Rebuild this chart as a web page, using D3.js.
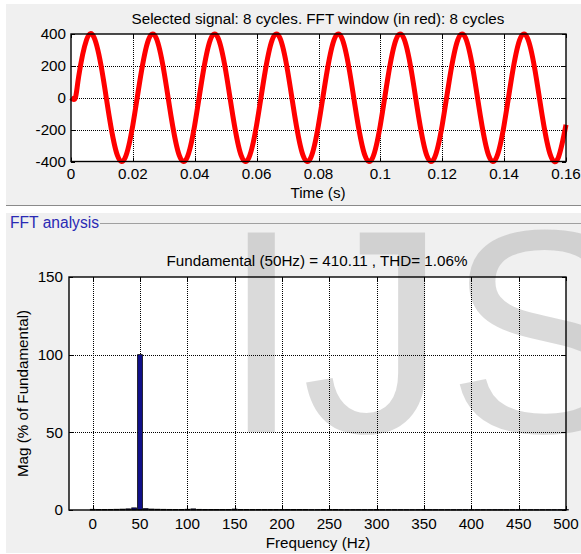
<!DOCTYPE html>
<html>
<head>
<meta charset="utf-8">
<script src="https://cdn.jsdelivr.net/npm/d3@7"></script>
<style>
  body { margin: 0; background: #ffffff; }
  svg { display: block; }
  text { font-family: "Liberation Sans", Arial, Helvetica, sans-serif; }
</style>
</head>
<body>
<svg id="chart" width="581" height="554"></svg>
<script>
// ---- Signal panel data ----------------------------------------------
const signalTitle = "Selected signal: 8 cycles. FFT window (in red): 8 cycles";
const timeLabel = "Time (s)";
const signalOnset = 0.0014;          // signal stays at 0 until this time (s)
const sampleStep = 0.0025;           // spacing of the samples below (s)
// samples at t = 0.0025, 0.005, ... 0.16 s (V)
const signalValues = [
  135, 362, 376, 170, -135, -362, -376, -170,
  135, 362, 376, 170, -135, -362, -376, -170,
  135, 362, 376, 170, -135, -362, -376, -170,
  135, 362, 376, 170, -135, -362, -376, -170,
  135, 362, 376, 170, -135, -362, -376, -170,
  135, 362, 376, 170, -135, -362, -376, -170,
  135, 362, 376, 170, -135, -362, -376, -170,
  135, 362, 376, 170, -135, -362, -376, -170
];
const timeTicks = [0, 0.02, 0.04, 0.06, 0.08, 0.1, 0.12, 0.14, 0.16];
const voltTicks = [-400, -200, 0, 200, 400];

// ---- FFT panel data ---------------------------------------------------
const panelLabel = "FFT analysis";
const fftTitle = "Fundamental (50Hz) = 410.11 , THD= 1.06%";
const freqLabel = "Frequency (Hz)";
const magLabel = "Mag (% of Fundamental)";
const binResolution = 6.25;          // Hz, 1 / 0.16 s window
// magnitude of each bin from 0 Hz to 500 Hz (% of fundamental)
const binMagnitudes = [
  0.45, 0.35, 0.38, 0.40, 0.46, 0.55, 0.72, 1.35, 100, 0.85,
  0.60, 0.50, 0.44, 0.40, 0.37, 0.36, 0.48, 0.70, 0.42, 0.34,
  0.31, 0.30, 0.30, 0.34, 0.62, 0.36, 0.30, 0.29, 0.28, 0.28,
  0.27, 0.27, 0.30, 0.32, 0.27, 0.26, 0.26, 0.25, 0.25, 0.26,
  0.29, 0.26, 0.25, 0.25, 0.24, 0.24, 0.24, 0.25, 0.27, 0.25,
  0.24, 0.24, 0.23, 0.23, 0.23, 0.24, 0.26, 0.24, 0.23, 0.23,
  0.22, 0.22, 0.22, 0.23, 0.25, 0.23, 0.22, 0.22, 0.22, 0.22,
  0.21, 0.22, 0.24, 0.22, 0.21, 0.21, 0.21, 0.21, 0.21, 0.21,
  0.23
];
const freqTicks = [0, 50, 100, 150, 200, 250, 300, 350, 400, 450, 500];
const magTicks = [0, 50, 100, 150];

// ---- Layout -------------------------------------------------------------
const svg = d3.select("#chart");
const panelFill = "#f0f0f0";
const fontSize = 15.2;

// panel backgrounds
svg.append("rect").attr("x", 6).attr("y", 4).attr("width", 575).attr("height", 201).attr("fill", panelFill);
svg.append("line").attr("x1", 6).attr("x2", 581).attr("y1", 205.5).attr("y2", 205.5)
  .attr("stroke", "#8a8a8a").attr("stroke-width", 1);
svg.append("rect").attr("x", 6).attr("y", 213).attr("width", 575).attr("height", 340).attr("fill", panelFill);
svg.append("line").attr("x1", 100).attr("x2", 581).attr("y1", 223.5).attr("y2", 223.5)
  .attr("stroke", "#a0a0a0").attr("stroke-width", 1);
svg.append("text").attr("x", 10).attr("y", 227.5).attr("font-size", 15.6)
  .attr("fill", "#2a2ab4").text(panelLabel);

// plot boxes
const sigBox = { left: 71, right: 566, top: 34, bottom: 161.5 };
const fftBox = { left: 69, right: 566, top: 277, bottom: 510 };

const xT = d3.scaleLinear().domain([0, 0.16]).range([sigBox.left, sigBox.right]);
const yT = d3.scaleLinear().domain([-400, 400]).range([sigBox.bottom, sigBox.top]);
const xF = d3.scaleLinear().domain([-25, 500]).range([fftBox.left, fftBox.right]);
const yF = d3.scaleLinear().domain([0, 150]).range([fftBox.bottom, fftBox.top]);

[sigBox, fftBox].forEach(b => {
  svg.append("rect").attr("x", b.left).attr("y", b.top)
    .attr("width", b.right - b.left).attr("height", b.bottom - b.top).attr("fill", "#ffffff");
});

// watermark lettering behind the plot contents
svg.append("text").attr("x", 221).attr("y", 432)
  .attr("font-size", 290).attr("fill", "#a8a8a8").attr("fill-opacity", 0.42)
  .text("IJS");

// gridlines, ticks and tick labels for one plot
function decorate(b, xs, ys, xticks, yticks, xfmt, yfmt, xLabelY, yLabelX) {
  const g = svg.append("g");
  const grid = g.append("g").attr("stroke", "#000").attr("stroke-width", 1)
    .attr("stroke-dasharray", "1,1").attr("shape-rendering", "crispEdges");
  xticks.forEach(t => {
    const x = Math.round(xs(t)) + 0.5;
    if (x > b.left + 1 && x < b.right - 1)
      grid.append("line").attr("x1", x).attr("x2", x).attr("y1", b.top).attr("y2", b.bottom);
  });
  yticks.forEach(t => {
    const y = Math.round(ys(t)) + 0.5;
    if (y > b.top + 1 && y < b.bottom - 1)
      grid.append("line").attr("x1", b.left).attr("x2", b.right).attr("y1", y).attr("y2", y);
  });

  // inward tick marks on all four sides
  const tk = g.append("g").attr("stroke", "#000").attr("stroke-width", 1);
  xticks.forEach(t => {
    const x = Math.round(xs(t)) + 0.5;
    tk.append("line").attr("x1", x).attr("x2", x).attr("y1", b.bottom).attr("y2", b.bottom - 4);
    tk.append("line").attr("x1", x).attr("x2", x).attr("y1", b.top).attr("y2", b.top + 4);
  });
  yticks.forEach(t => {
    const y = Math.round(ys(t)) + 0.5;
    tk.append("line").attr("x1", b.left).attr("x2", b.left + 4).attr("y1", y).attr("y2", y);
    tk.append("line").attr("x1", b.right).attr("x2", b.right - 4).attr("y1", y).attr("y2", y);
  });

  g.append("g").selectAll("text").data(xticks).join("text")
    .attr("x", d => xs(d)).attr("y", xLabelY).attr("text-anchor", "middle")
    .attr("font-size", fontSize).attr("fill", "#000").text(xfmt);
  g.append("g").selectAll("text").data(yticks).join("text")
    .attr("x", yLabelX).attr("y", d => ys(d)).attr("dy", "0.36em").attr("text-anchor", "end")
    .attr("font-size", fontSize).attr("fill", "#000").text(yfmt);
}

function frame(b) {
  svg.append("rect").attr("x", b.left).attr("y", b.top)
    .attr("width", b.right - b.left).attr("height", b.bottom - b.top)
    .attr("fill", "none").attr("stroke", "#000").attr("stroke-width", 1.4);
}

// ---- Signal plot ----------------------------------------------------------
decorate(sigBox, xT, yT, timeTicks, voltTicks, d => String(+d.toFixed(2)), d => String(d), 179, 66);

const signalPoints = [[0, 0], [signalOnset, 0]]
  .concat(signalValues.map((v, i) => [(i + 1) * sampleStep, v]));
const line = d3.line().x(d => xT(d[0])).y(d => yT(d[1])).curve(d3.curveNatural);
svg.append("path").attr("d", line(signalPoints))
  .attr("fill", "none").attr("stroke", "#ff0000").attr("stroke-width", 5)
  .attr("stroke-linejoin", "round").attr("stroke-linecap", "butt");
frame(sigBox);

svg.append("text").attr("x", 318).attr("y", 24).attr("text-anchor", "middle")
  .attr("font-size", fontSize).text(signalTitle);
svg.append("text").attr("x", 318).attr("y", 198).attr("text-anchor", "middle")
  .attr("font-size", fontSize).text(timeLabel);

// ---- FFT plot -------------------------------------------------------------
decorate(fftBox, xF, yF, freqTicks, magTicks, d => String(d), d => String(d), 529, 63);

const barW = 0.8 * binResolution * (xF(1) - xF(0));
svg.append("g").selectAll("rect").data(binMagnitudes).join("rect")
  .attr("x", (d, i) => xF(i * binResolution) - barW / 2)
  .attr("y", d => yF(d))
  .attr("width", barW)
  .attr("height", d => yF(0) - yF(d))
  .attr("fill", "#10108a").attr("stroke", "#000").attr("stroke-width", 0.8);
frame(fftBox);

svg.append("text").attr("x", 317).attr("y", 266).attr("text-anchor", "middle")
  .attr("font-size", fontSize).text(fftTitle);
svg.append("text").attr("x", 318).attr("y", 547.5).attr("text-anchor", "middle")
  .attr("font-size", fontSize).text(freqLabel);
svg.append("text").attr("transform", "translate(28,393.5) rotate(-90)")
  .attr("text-anchor", "middle").attr("font-size", fontSize).text(magLabel);
</script>
</body>
</html>
